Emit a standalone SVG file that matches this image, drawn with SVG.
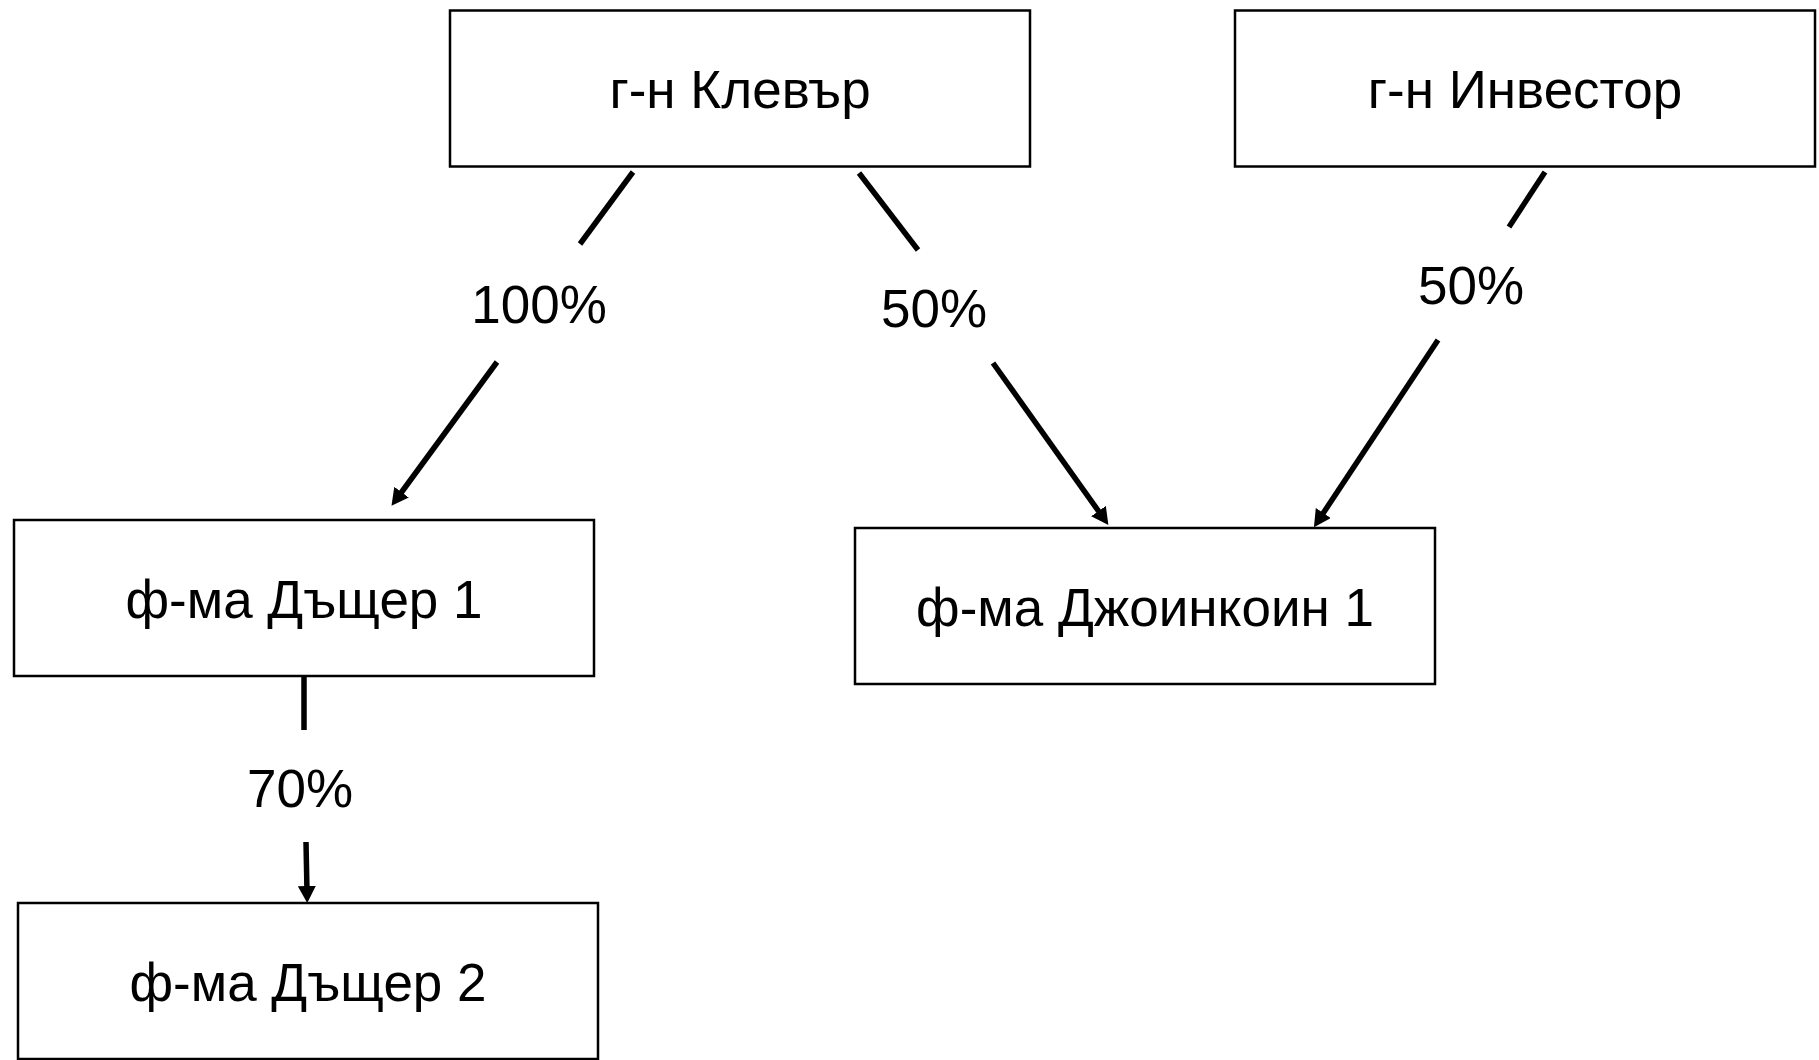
<svg xmlns="http://www.w3.org/2000/svg" width="1819" height="1060" viewBox="0 0 1819 1060">
<style>
.box{fill:#fff;stroke:#000;stroke-width:2.5}
.t{font-family:"Liberation Sans",Arial,sans-serif;font-size:53px;fill:#000;text-anchor:middle}
.c{stroke:#000;stroke-width:5.5;fill:none}
</style>
<defs>
<marker id="ah" markerUnits="userSpaceOnUse" markerWidth="18" markerHeight="18" refX="6" refY="9" orient="auto" viewBox="0 0 18 18">
<path d="M0,0 L17,9 L0,18 z" fill="#000"/>
</marker>
</defs>
<rect width="1819" height="1060" fill="#fff"/>
<g id="connectors">
<path class="c" d="M633,172 L580,244"/>
<path class="c" d="M497,362 L398,497" marker-end="url(#ah)"/>
<path class="c" d="M859,173 L918,250"/>
<path class="c" d="M993,363 L1102,516" marker-end="url(#ah)"/>
<path class="c" d="M1545,172 L1509,227"/>
<path class="c" d="M1438,340 L1320,518" marker-end="url(#ah)"/>
<path class="c" d="M304,677 L304,730"/>
<path class="c" d="M306,842 L307,892" marker-end="url(#ah)"/>
<text class="t" x="539" y="323">100%</text>
<text class="t" x="934" y="327">50%</text>
<text class="t" x="1471" y="304">50%</text>
<text class="t" x="300" y="807">70%</text>
</g>
<g id="klever"><rect class="box" x="450" y="10.5" width="580" height="156"/><text class="t" x="740" y="108">г-н Клевър</text></g>
<g id="investor"><rect class="box" x="1235" y="10.5" width="580" height="156"/><text class="t" x="1525" y="108">г-н Инвестор</text></g>
<g id="dashter1"><rect class="box" x="14" y="520" width="580" height="156"/><text class="t" x="304" y="617.5">ф-ма Дъщер 1</text></g>
<g id="joint"><rect class="box" x="855" y="528" width="580" height="156"/><text class="t" x="1145" y="625.5">ф-ма Джоинкоин 1</text></g>
<g id="dashter2"><rect class="box" x="18" y="903" width="580" height="156"/><text class="t" x="308" y="1000.5">ф-ма Дъщер 2</text></g>
</svg>
